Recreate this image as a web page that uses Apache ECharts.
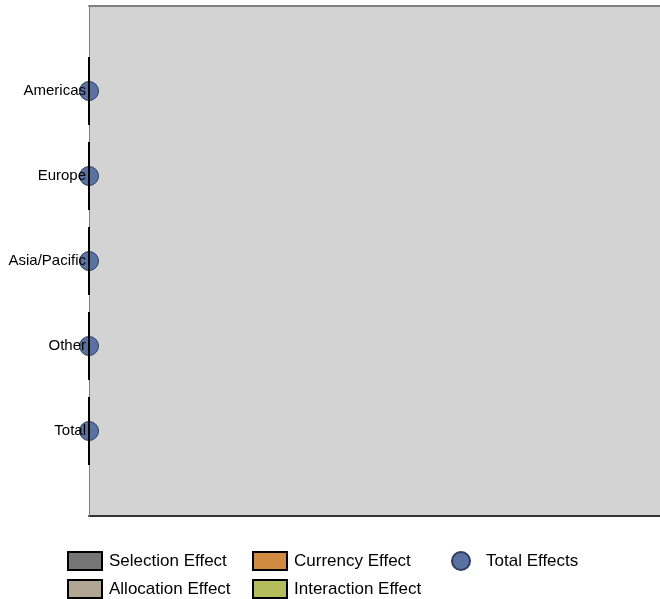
<!DOCTYPE html>
<html>
<head>
<meta charset="utf-8">
<script src="https://cdn.jsdelivr.net/npm/echarts@6/dist/echarts.min.js"></script>
<style>
  html, body { margin: 0; padding: 0; background: #fff; }
  #chart { width: 660px; height: 599px; }
</style>
</head>
<body>
<div id="chart"></div>
<script>
// Regions shown on the category axis (top to bottom)
const categories = ['Americas', 'Europe', 'Asia/Pacific', 'Other', 'Total'];

// Attribution effects per region
const selectionEffect   = [0, 0, 0, 0, 0];
const allocationEffect  = [0, 0, 0, 0, 0];
const currencyEffect    = [0, 0, 0, 0, 0];
const interactionEffect = [0, 0, 0, 0, 0];
const totalEffects      = [0, 0, 0, 0, 0];

// Empty slots above and below the regions give the half-band margins
const axisCats = [''].concat(categories, ['']);
const pad = arr => ['-'].concat(arr, ['-']);

const FONT = 'Liberation Sans, Arial, sans-serif';

function barSeries(name, values, color) {
  return {
    name: name,
    type: 'bar',
    stack: 'effects',
    barWidth: '80%',
    data: pad(values),
    itemStyle: { color: color, borderColor: '#000', borderWidth: 1.6 },
    z: 12
  };
}

const chart = echarts.init(document.getElementById('chart'), null, { renderer: 'canvas' });

const legendText = { fontFamily: FONT, fontSize: 17, color: '#000', padding: [0, 0, 0, 2] };

const hiddenValueAxis = {
  type: 'value',
  min: 0, max: 1,
  axisTick: { show: false },
  axisLabel: { show: false },
  splitLine: { show: false }
};

chart.setOption({
  animation: false,
  grid: {
    left: 89, top: 6, bottom: 83, right: 0,
    show: true,
    backgroundColor: '#d3d3d3',
    borderWidth: 0
  },
  xAxis: [
    Object.assign({}, hiddenValueAxis, {
      position: 'bottom',
      axisLine: { show: true, onZero: false, lineStyle: { color: '#333', width: 2 } }
    }),
    Object.assign({}, hiddenValueAxis, {
      position: 'top',
      axisLine: { show: true, onZero: false, lineStyle: { color: '#808080', width: 2 } }
    })
  ],
  yAxis: {
    type: 'category',
    data: axisCats,
    inverse: true,
    boundaryGap: false,
    z: 10,
    axisLine: { show: true, lineStyle: { color: '#7f7f7f', width: 1 } },
    axisTick: { show: false },
    axisLabel: { fontFamily: FONT, fontSize: 15, color: '#000', margin: 3, padding: [2, 0, 0, 0] },
    splitLine: { show: false }
  },
  legend: [
    {
      orient: 'vertical', left: 67, top: 551, padding: 0,
      itemWidth: 34, itemHeight: 18, itemGap: 8, icon: 'rect',
      textStyle: legendText,
      data: ['Selection Effect', 'Allocation Effect']
    },
    {
      orient: 'vertical', left: 252, top: 551, padding: 0,
      itemWidth: 34, itemHeight: 18, itemGap: 8, icon: 'rect',
      textStyle: legendText,
      data: ['Currency Effect', 'Interaction Effect']
    },
    {
      orient: 'vertical', left: 451, top: 551, padding: 0,
      itemWidth: 18, itemHeight: 18, icon: 'circle',
      textStyle: Object.assign({}, legendText, { padding: [0, 0, 0, 11] }),
      data: ['Total Effects']
    }
  ],
  series: [
    {
      name: 'Total Effects',
      type: 'scatter',
      symbol: 'circle',
      symbolSize: 19,
      data: pad(totalEffects),
      itemStyle: { color: '#5a72a2', borderColor: '#2e3d5c', borderWidth: 1, opacity: 1 },
      z: 2
    },
    barSeries('Selection Effect', selectionEffect, '#767676'),
    barSeries('Allocation Effect', allocationEffect, '#b0a693'),
    barSeries('Currency Effect', currencyEffect, '#d08a42'),
    barSeries('Interaction Effect', interactionEffect, '#b4bd5c')
  ]
});
</script>
</body>
</html>
